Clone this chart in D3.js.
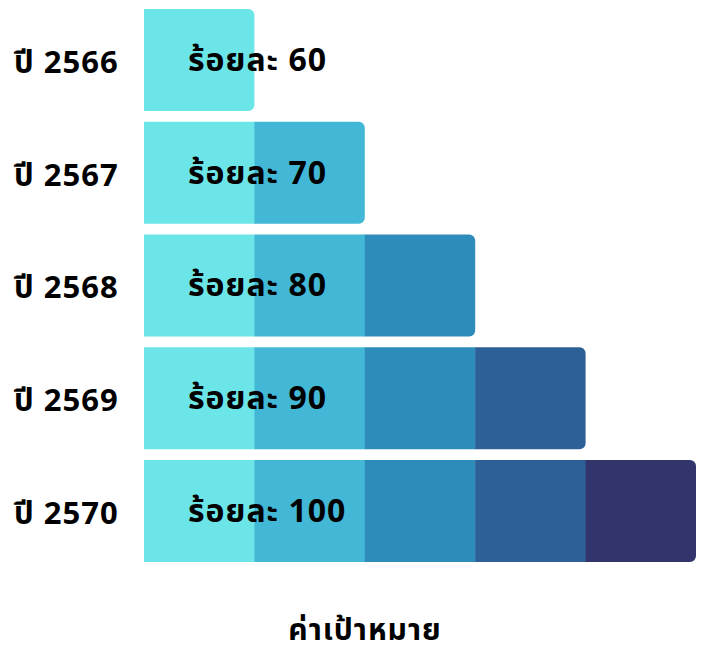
<!DOCTYPE html>
<html>
<head>
<meta charset="utf-8">
<script src="https://cdn.jsdelivr.net/npm/d3@7"></script>
<style>
  body { margin: 0; background: #fff; }
  svg text { font-family: "Noto Sans", "Noto Sans Thai", sans-serif; font-weight: bold; fill: #000; letter-spacing: 1px; }
</style>
</head>
<body>
<svg width="703" height="648"></svg>
<script>
  var years = ['ปี 2566', 'ปี 2567', 'ปี 2568', 'ปี 2569', 'ปี 2570'];
  var targets = [60, 70, 80, 90, 100];
  var steps = [1, 2, 3, 4, 5];
  var colors = ['#6be5e8', '#42b8d6', '#2e8cbb', '#2e6098', '#31356c'];
  var axisTitle = 'ค่าเป้าหมาย';

  var svg = d3.select('svg');

  var x = d3.scaleLinear().domain([0, 5]).range([144, 696]);
  var y = d3.scaleBand().domain(years).range([9, 562]).paddingInner(0.095).paddingOuter(0);

  var rows = svg.selectAll('.row').data(years).enter().append('g')
    .attr('class', 'row')
    .attr('transform', function(d) { return 'translate(0,' + y(d) + ')'; });

  rows.each(function(year, i) {
    var g = d3.select(this);
    var segs = d3.range(steps[i]);
    var h = y.bandwidth();
    var r = 6;
    g.selectAll('path').data(segs).enter().append('path')
      .attr('fill', function(j) { return colors[j]; })
      .attr('d', function(j) {
        var x0 = x(j), x1 = x(j + 1);
        if (j < steps[i] - 1) {
          return 'M' + x0 + ',0H' + (x1 + 0.5) + 'V' + h + 'H' + x0 + 'Z';
        }
        return 'M' + x0 + ',0H' + (x1 - r) + 'A' + r + ',' + r + ' 0 0 1 ' + x1 + ',' + r +
          'V' + (h - r) + 'A' + r + ',' + r + ' 0 0 1 ' + (x1 - r) + ',' + h + 'H' + x0 + 'Z';
      });

    g.append('text')
      .attr('x', 188)
      .attr('y', h / 2 + 11)
      .style('font-size', '32px')
      .text('ร้อยละ ' + targets[i]);

    g.append('text')
      .attr('x', 14)
      .attr('y', h / 2 + 13)
      .style('font-size', '31px')
      .text(year);
  });

  svg.append('text')
    .attr('x', 365)
    .attr('y', 640)
    .attr('text-anchor', 'middle')
    .style('font-size', '30px')
    .text(axisTitle);
</script>
</body>
</html>
